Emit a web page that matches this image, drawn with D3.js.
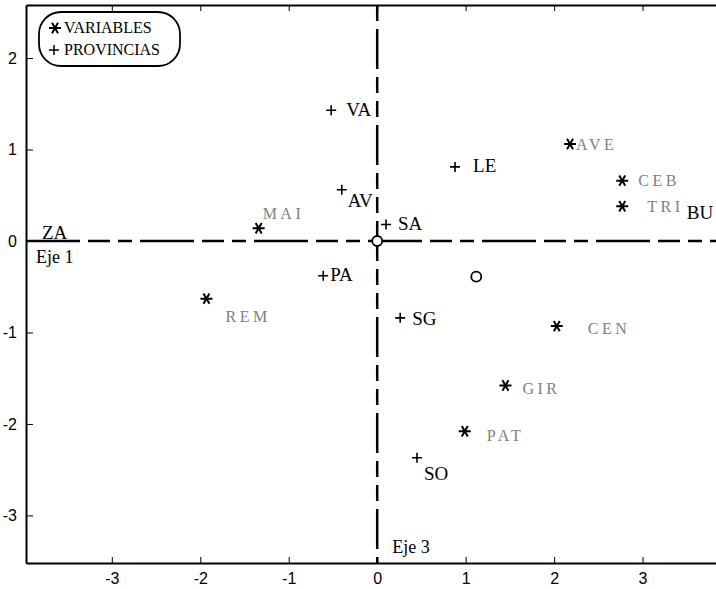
<!DOCTYPE html>
<meta charset="utf-8">
<script src="https://d3js.org/d3.v7.min.js"></script>
<style>
body { margin: 0; background: #fff; }
.tick text { font-family: "Liberation Sans Narrow", "Liberation Sans", sans-serif; font-size: 16px; }
.prov { font-family: "Liberation Serif", serif; font-size: 19px; fill: #000; }
.var { font-family: "Liberation Serif", serif; font-size: 16px; fill: #808080; letter-spacing: 3.5px; }
.eje { font-family: "Liberation Serif", serif; font-size: 18px; }
.leg { font-family: "Liberation Serif", serif; font-size: 16px; }
</style>
<body>
<div id="chart"></div>
<script>

// variables (asterisks)
const variables = ["MAI", "REM", "AVE", "CEB", "TRI", "CEN", "GIR", "PAT"];
const varX = [-1.34, -1.93, 2.18, 2.77, 2.77, 2.03, 1.45, 0.99];
const varY = [0.14, -0.63, 1.06, 0.66, 0.38, -0.93, -1.58, -2.08];

// provincias (crosses)
const provincias = ["VA", "AV", "SA", "LE", "PA", "SG", "SO"];
const provX = [-0.52, -0.40, 0.10, 0.88, -0.61, 0.26, 0.45];
const provY = [1.43, 0.56, 0.18, 0.81, -0.38, -0.84, -2.37];

// provincias whose point lies outside the frame: only the name shows
const edgeNames = ["ZA", "BU"];
const edgeX = [-3.79, 3.50];
const edgeY = [0.02, 0.24];

// small open circles without label
const circX = [0, 1.12];
const circY = [0, -0.39];

const xTicks = [-3, -2, -1, 0, 1, 2, 3];
const yTicks = [-3, -2, -1, 0, 1, 2];

// label offsets in px (layout only)
const off = {
  MAI: [4, -9], REM: [19, 23], AVE: [6, 6], CEB: [16, 5], TRI: [25, 6],
  CEN: [31, 8], GIR: [17, 8], PAT: [22, 10],
  VA: [15, 6], AV: [6, 17], SA: [12, 5], LE: [18, 5], PA: [7, 5],
  SG: [12, 7], SO: [7, 22]
};

const W = 716, H = 589;
const svg = d3.select("#chart").append("svg")
  .attr("width", W).attr("height", H);

const x = d3.scaleLinear().domain([-3.97, 3.83]).range([26, 716]);
const y = d3.scaleLinear().domain([-3.52, 2.58]).range([563, 5]);

// frame axes
svg.append("g")
  .attr("transform", `translate(0,${y(-3.52)})`)
  .call(d3.axisBottom(x).tickValues(xTicks).tickFormat(d => String(d))
    .tickSizeInner(-6).tickSizeOuter(0).tickPadding(10))
  .call(g => g.select(".domain").attr("stroke-width", 2));

svg.append("g")
  .attr("transform", `translate(0,${y(2.58)})`)
  .call(d3.axisTop(x).tickValues(xTicks).tickFormat("")
    .tickSizeInner(-6).tickSizeOuter(0))
  .call(g => g.select(".domain").attr("stroke-width", 2));

svg.append("g")
  .attr("transform", `translate(${x(-3.97)},0)`)
  .call(d3.axisLeft(y).tickValues(yTicks).tickFormat(d => String(d))
    .tickSizeInner(-7).tickSizeOuter(0).tickPadding(9))
  .call(g => g.select(".domain").attr("stroke-width", 2));

// dashed factor axes
svg.append("line")
  .attr("x1", x(-3.97)).attr("x2", x(3.83))
  .attr("y1", y(0)).attr("y2", y(0))
  .attr("stroke", "#000").attr("stroke-width", 2.5)
  .attr("stroke-dasharray", "54,8,22,8,14,8");

svg.append("line")
  .attr("x1", x(0)).attr("x2", x(0))
  .attr("y1", y(2.58)).attr("y2", y(-3.52))
  .attr("stroke", "#000").attr("stroke-width", 2.5)
  .attr("stroke-dasharray", "16,8,40,8,16,8");

svg.append("text").attr("class", "eje")
  .attr("x", x(-3.97) + 10).attr("y", y(0) + 22).text("Eje 1");
svg.append("text").attr("class", "eje")
  .attr("x", x(0) + 15).attr("y", y(-3.52) - 10).text("Eje 3");

// open circles
svg.selectAll("circle.c")
  .data(circX.map((d, i) => ({ x: d, y: circY[i] })))
  .join("circle")
  .attr("cx", d => x(d.x)).attr("cy", d => y(d.y)).attr("r", 5)
  .attr("fill", "#fff").attr("stroke", "#000").attr("stroke-width", 1.8);

// asterisk path
function star(r) {
  let p = "";
  [0, 60, 120].forEach(a => {
    const t = a * Math.PI / 180, dx = r * Math.cos(t), dy = r * Math.sin(t);
    p += `M${-dx},${-dy}L${dx},${dy}`;
  });
  return p;
}

const vars = variables.map((n, i) => ({ n, x: varX[i], y: varY[i] }));
svg.selectAll("path.star").data(vars).join("path")
  .attr("class", "star")
  .attr("d", star(6))
  .attr("transform", d => `translate(${x(d.x)},${y(d.y)})`)
  .attr("stroke", "#000").attr("stroke-width", 2);

svg.selectAll("text.var").data(vars).join("text")
  .attr("class", "var")
  .attr("x", d => x(d.x) + off[d.n][0])
  .attr("y", d => y(d.y) + off[d.n][1])
  .text(d => d.n);

const provs = provincias.map((n, i) => ({ n, x: provX[i], y: provY[i] }));
svg.selectAll("path.plus").data(provs).join("path")
  .attr("class", "plus")
  .attr("d", "M-5,0L5,0M0,-5L0,5")
  .attr("transform", d => `translate(${x(d.x)},${y(d.y)})`)
  .attr("stroke", "#000").attr("stroke-width", 1.6);

svg.selectAll("text.prov").data(provs).join("text")
  .attr("class", "prov")
  .attr("x", d => x(d.x) + off[d.n][0])
  .attr("y", d => y(d.y) + off[d.n][1])
  .text(d => d.n);

svg.selectAll("text.edge")
  .data(edgeNames.map((n, i) => ({ n, x: edgeX[i], y: edgeY[i] })))
  .join("text")
  .attr("class", "prov edge")
  .attr("x", d => x(d.x)).attr("y", d => y(d.y))
  .text(d => d.n);

// legend
const leg = svg.append("g").attr("transform", "translate(39,12)");
leg.append("rect")
  .attr("width", 141).attr("height", 54).attr("rx", 22).attr("ry", 22)
  .attr("fill", "#fff").attr("stroke", "#000").attr("stroke-width", 1.8);
leg.append("path").attr("d", star(6)).attr("transform", "translate(16,16)")
  .attr("stroke", "#000").attr("stroke-width", 2);
leg.append("path").attr("d", "M-5,0L5,0M0,-5L0,5").attr("transform", "translate(15,38)")
  .attr("stroke", "#000").attr("stroke-width", 1.5);
leg.append("text").attr("class", "leg").attr("x", 25).attr("y", 21).text("VARIABLES");
leg.append("text").attr("class", "leg").attr("x", 25).attr("y", 43).text("PROVINCIAS");

</script>
</body>
